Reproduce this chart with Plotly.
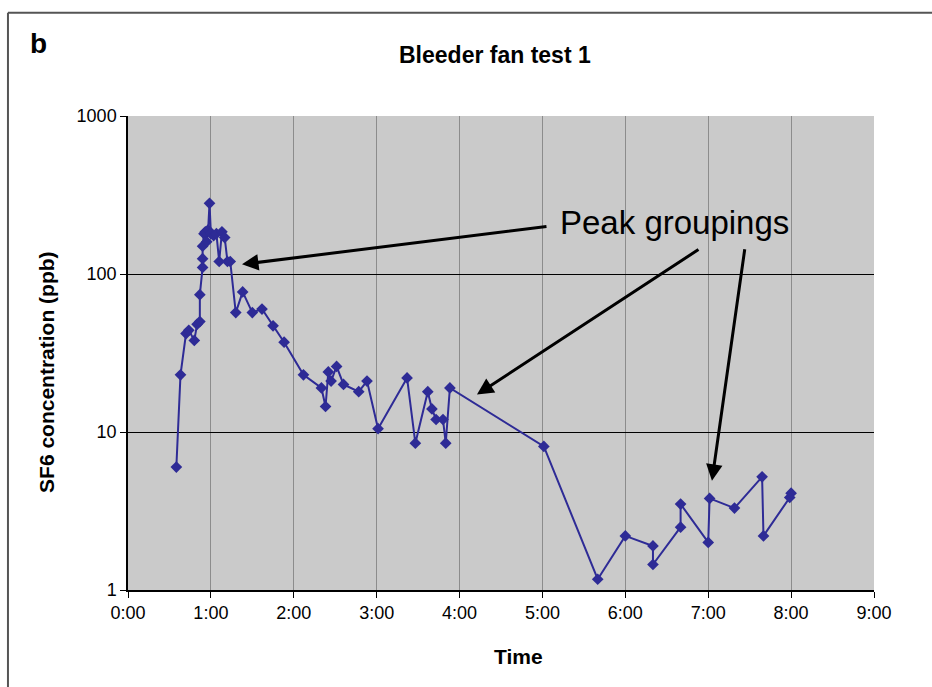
import plotly.graph_objects as go

# Elapsed time of each sample, in minutes
time_min = [35, 38, 42, 44, 48, 50, 52, 52, 54, 54, 54, 55, 56, 57, 58, 59,
            60, 62, 64, 66, 68, 70, 72, 74, 78, 83, 90, 97, 105, 113,
            127, 140, 143, 145, 147, 151, 156, 167, 173, 181,
            202, 208, 217, 220, 223, 228, 230, 233,
            301, 340, 360, 380, 380, 400, 400, 420, 421, 439, 459, 460, 479, 480]
# SF6 concentration (ppb)
sf6_ppb = [6.0, 23, 42, 44, 38, 48, 50, 74, 110, 125, 150, 180, 185, 160, 190, 280,
           180, 175, 180, 120, 185, 170, 120, 120, 57, 77, 57, 60, 47, 37,
           23, 19, 14.5, 24, 21, 26, 20, 18, 21, 10.5,
           22, 8.5, 18, 14, 12, 12, 8.5, 19,
           8.1, 1.17, 2.2, 1.9, 1.45, 2.5, 3.5, 2.0, 3.8, 3.3, 5.2, 2.2, 3.85, 4.1]

tick_minutes = [0, 60, 120, 180, 240, 300, 360, 420, 480, 540]
tick_labels = ["0:00", "1:00", "2:00", "3:00", "4:00", "5:00", "6:00", "7:00", "8:00", "9:00"]
y_ticks = [1, 10, 100, 1000]

FONT = "Liberation Sans, Arial, sans-serif"
LINE_COLOR = "#2e2b96"

fig = go.Figure()
fig.add_trace(go.Scatter(
    x=time_min, y=sf6_ppb, mode="lines+markers",
    line=dict(color=LINE_COLOR, width=2),
    marker=dict(symbol="diamond", size=9, color=LINE_COLOR),
    showlegend=False,
))

fig.update_layout(
    width=932, height=687,
    margin=dict(l=128, r=58, t=116, b=97),
    paper_bgcolor="white",
    plot_bgcolor="#cacaca",
    font=dict(family=FONT, size=18, color="black"),
    showlegend=False,
)
fig.update_xaxes(
    range=[0, 540], tickvals=tick_minutes, ticktext=tick_labels,
    showgrid=True, gridcolor="#8c8c8c", gridwidth=1,
    showline=True, linecolor="black", linewidth=1.5,
    ticks="outside", ticklen=6, tickcolor="black",
    zeroline=False, tickfont=dict(size=18),
)
fig.update_yaxes(
    type="log", range=[0, 3], tickvals=y_ticks, ticktext=[str(v) for v in y_ticks],
    showgrid=True, gridcolor="black", gridwidth=1,
    showline=True, linecolor="black", linewidth=1.5,
    ticks="outside", ticklen=6, tickcolor="black",
    zeroline=False, tickfont=dict(size=18),
)

def label(text, x, y, size, angle=0):
    return dict(text=text, x=x, y=y, xref="paper", yref="paper", showarrow=False,
                xanchor="center", yanchor="middle", textangle=angle, font=dict(size=size))

annotations = [
    label("<b>Bleeder fan test 1</b>", 0.492, 1.129, 23),
    label("<b>b</b>", -0.1206, 1.152, 28),
    label("<b>Time</b>", 0.523, -0.141, 21),
    label("<b>SF6 concentration (ppb)</b>", -0.1086, 0.46, 21, -90),
    label("Peak groupings", 0.733, 0.776, 33),
]
# arrows (tip in data coords, tail via pixel offsets)
arrow_tips = [(82.5, 2.061, 306, -38), (252.6, 1.237, 223, -146), (422.7, 0.691, 33, -233)]
for tx, ty, ax, ay in arrow_tips:
    annotations.append(dict(text="", x=tx, y=ty, xref="x", yref="y", ax=ax, ay=ay,
                            showarrow=True, arrowhead=2, arrowsize=1.1, arrowwidth=3,
                            arrowcolor="black"))
fig.update_layout(annotations=annotations)

# outer frame lines (top and left)
fig.add_shape(type="line", xref="paper", yref="paper", x0=-0.1609, x1=1.08,
              y0=1.218, y1=1.218, line=dict(color="#555555", width=2))
fig.add_shape(type="line", xref="paper", yref="paper", x0=-0.1609, x1=-0.1609,
              y0=1.218, y1=-0.21, line=dict(color="#555555", width=2))

fig.write_html("out.html")
